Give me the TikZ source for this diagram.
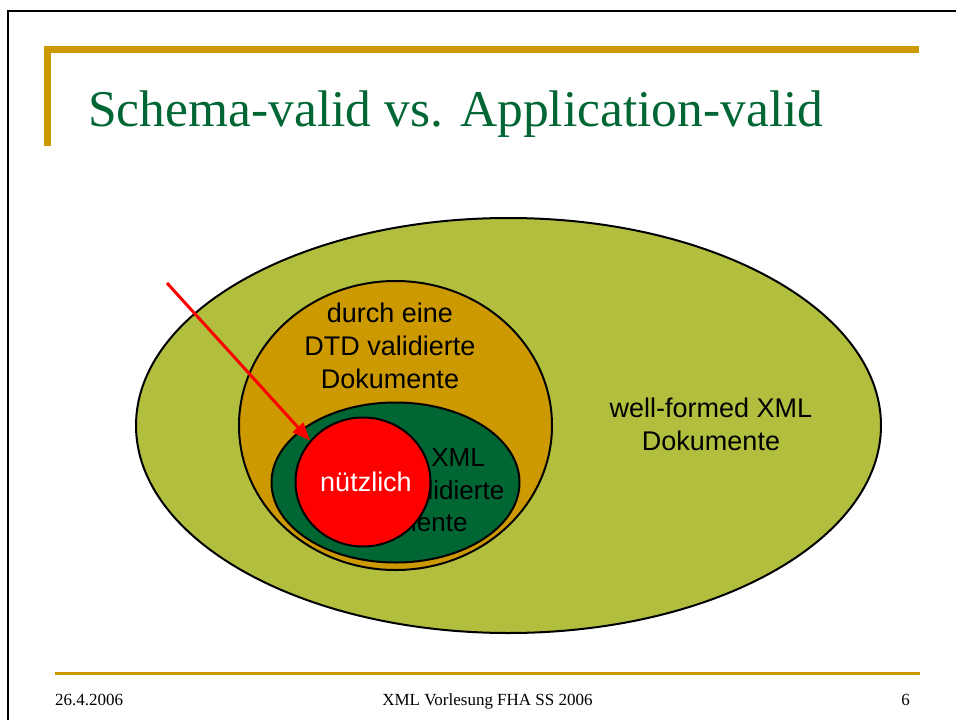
\documentclass[tikz,border=0pt]{standalone}
\usepackage{fontspec}
\setmainfont{Liberation Serif}
\newfontfamily\arialf{Liberation Sans}
\usetikzlibrary{shapes.geometric,arrows.meta}
\definecolor{oliveA}{RGB}{178,191,62}
\definecolor{goldA}{RGB}{204,153,0}
\definecolor{greenA}{RGB}{0,102,51}
\definecolor{titleG}{RGB}{0,102,51}
\tikzset{
  setbox/.style={ellipse, draw=black, line width=2pt, inner sep=0pt},
  setlabel/.style={inner sep=0pt, align=center, font=\arialf\fontsize{27}{32.7}\selectfont},
  goldbar/.style={draw=goldA},
  foot/.style={inner sep=0pt, anchor=base, font=\fontsize{17}{20}\selectfont}
}
\begin{document}
\begin{tikzpicture}[x=1pt,y=-1pt]
\useasboundingbox (0,0) rectangle (956,720);
% frame
\draw[line width=2.5pt, black] (8,720) -- (8,11) -- (956,11);
% title decoration
\draw[goldbar, line width=7pt] (47.5,146) -- (47.5,49.5) -- (919,49.5);
\node[inner sep=0pt, anchor=base west, text=titleG, font=\fontsize{51.5}{60}\selectfont] (title) at (88,126) {Schema-valid vs. Application-valid};
% footer
\draw[goldbar, line width=3.5pt] (55,673.5) -- (920,673.5);
\node[foot, anchor=base west] (date) at (55,705) {26.4.2006};
\node[foot] (course) at (487.5,705) {XML Vorlesung FHA SS 2006};
\node[foot] (page) at (905.5,705) {6};
% sets
\node[setbox, fill=oliveA, minimum width=745pt, minimum height=415pt] (wf) at (508.5,425.5) {};
\node[setbox, fill=goldA, minimum width=313pt, minimum height=289pt] (dtd) at (395.5,425.5) {};
\node[setbox, fill=greenA, minimum width=248pt, minimum height=160pt] (xsd) at (395.5,482.5) {};
\node[setlabel] (wflabel) at (711,424.5) {well-formed XML\\Dokumente};
\node[setlabel] (dtdlabel) at (390,346) {durch eine\\DTD validierte\\Dokumente};
\node[setlabel, font=\arialf\fontsize{26}{32.7}\selectfont] (xsdlabel) at (401,490) {durch ein XML\\Schema validierte\\Dokumente};
\node[setbox, fill=red, minimum width=135pt, minimum height=129pt] (useful) at (363,482) {};
\node[setlabel, text=white] (usefullabel) at (366,482) {nützlich};
% arrow
\coordinate (arrstart) at (167,283);
\draw[red, line width=3pt, -{Triangle[length=18pt,width=14pt]}] (arrstart) -- (useful.142);
\end{tikzpicture}
\end{document}
